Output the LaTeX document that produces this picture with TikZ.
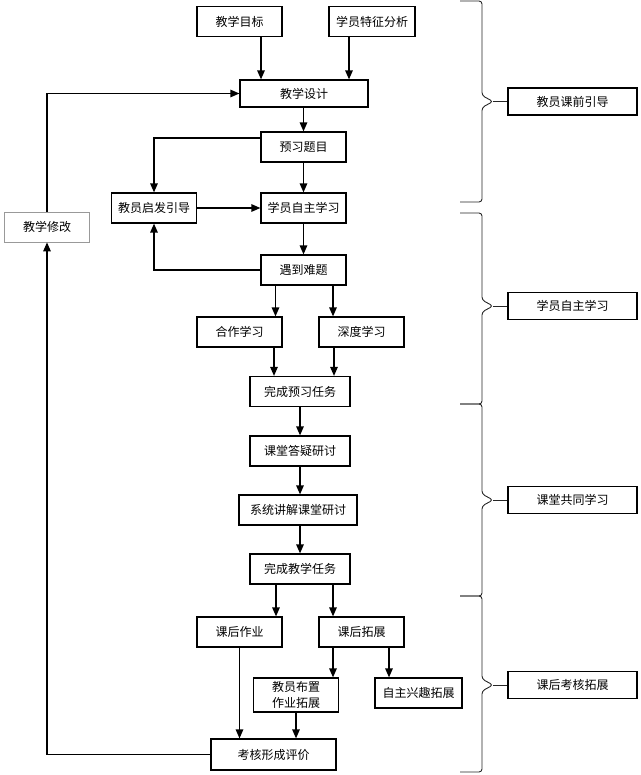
\documentclass[tikz,border=0pt]{standalone}
\usepackage{fontspec}
\newfontfamily\cjk{Noto Sans CJK SC}
\usepackage{tikz}
\usetikzlibrary{arrows.meta,positioning,calc}

\begin{document}
\begin{tikzpicture}[
    x=1pt, y=-1pt,
    box/.style={draw, line width=1.2pt, minimum width=85pt, minimum height=30pt, inner sep=2pt, align=center, font=\cjk\fontsize{12}{16}\selectfont},
    stage/.style={box, minimum width=129pt, minimum height=27pt},
    arrow/.style={-{Triangle[length=9pt,width=7.5pt]}, line width=1.3pt},
    curly/.style={draw=black!85, line width=0.9pt, rounded corners=3pt}
]
\useasboundingbox (0,0) rectangle (640,775);

% Before class
\node[box] (goal) at (239.5,21.5) {教学目标};
\node[box, minimum width=86pt] (trait) at (372,21.5) {学员特征分析};
\node[box, minimum width=128pt, minimum height=27pt] (design) at (304,93.5) {教学设计};
\node[box] (preq) at (303.5,147) {预习题目};
\node[box] (inspire) at (154,208) {教员启发引导};
\node[box] (selfstudy) at (303.5,208) {学员自主学习};
\node[box, draw=black!40, line width=0.8pt] (revise) at (47,227) {教学修改};

% Self study
\node[box] (hard) at (303.5,270) {遇到难题};
\node[box] (coop) at (239.5,332) {合作学习};
\node[box] (deep) at (361.5,332) {深度学习};
\node[box, minimum width=100pt] (prepdone) at (300,391.5) {完成预习任务};

% In class
\node[box, minimum width=100pt] (classqa) at (300,451) {课堂答疑研讨};
\node[box, minimum width=118pt] (lecture) at (298,510) {系统讲解课堂研讨};
\node[box, minimum width=100pt] (teachdone) at (300,569) {完成教学任务};

% After class
\node[box] (homework) at (239.5,632) {课后作业};
\node[box] (extend) at (361.5,632) {课后拓展};
\node[box, minimum height=34pt] (assign) at (296,695) {教员布置\\作业拓展};
\node[box, minimum width=87pt] (interest) at (418.5,693) {自主兴趣拓展};
\node[box, minimum width=125pt, minimum height=31pt] (evaluate) at (273.5,754.5) {考核形成评价};

% Stages
\node[stage] (stage1) at (572.5,101.5) {教员课前引导};
\node[stage] (stage2) at (572.5,306) {学员自主学习};
\node[stage] (stage3) at (572.5,500) {课堂共同学习};
\node[stage] (stage4) at (572.5,685) {课后考核拓展};

% Arrows
\draw[arrow] ([xshift=21.5pt]goal.south) -- ([xshift=21.5pt]goal.south |- design.north);
\draw[arrow] ([xshift=-23pt]trait.south) -- ([xshift=-23pt]trait.south |- design.north);
\draw[arrow] (revise.north) |- (design.west);
\draw[arrow] (preq.north |- design.south) -- (preq.north);
\draw[arrow] ([yshift=9pt]preq.west) -| (inspire.north);
\draw[arrow] (preq) -- (selfstudy);
\draw[arrow] (inspire) -- (selfstudy);
\draw[arrow] (selfstudy) -- (hard);
\draw[arrow] (hard.west) -| (inspire.south);
\draw[arrow] ([xshift=-28pt]hard.south) -- ([xshift=-28pt]hard.south |- coop.north);
\draw[arrow] ([xshift=29.5pt]hard.south) -- ([xshift=29.5pt]hard.south |- deep.north);
\draw[arrow] ([xshift=34.5pt]coop.south) -- ([xshift=34.5pt]coop.south |- prepdone.north);
\draw[arrow] ([xshift=-27.5pt]deep.south) -- ([xshift=-27.5pt]deep.south |- prepdone.north);
\draw[arrow] (prepdone) -- (classqa);
\draw[arrow] (classqa) -- (classqa.south |- lecture.north);
\draw[arrow] (lecture.south -| teachdone.north) -- (teachdone);
\draw[arrow] ([xshift=-24pt]teachdone.south) -- ([xshift=-24pt]teachdone.south |- homework.north);
\draw[arrow] ([xshift=33pt]teachdone.south) -- ([xshift=33pt]teachdone.south |- extend.north);
\draw[arrow] (homework) -- (homework.south |- evaluate.north);
\draw[arrow] ([xshift=-28.5pt]extend.south) -- ([xshift=-28.5pt]extend.south |- assign.north);
\draw[arrow] ([xshift=27.5pt]extend.south) -- ([xshift=27.5pt]extend.south |- interest.north);
\draw[arrow] (assign) -- (assign.south |- evaluate.north);
\draw[arrow] (evaluate.west) -| (revise.south);

% Braces
\coordinate (tip1) at (493,101.5);
\coordinate (tip2) at (493,306);
\coordinate (tip3) at (493,500);
\coordinate (tip4) at (493,685);
\draw[curly] (460,1) -- (482,1) -- (482,95.5) -- (tip1) -- (482,107.5) -- (482,202) -- (460,202);
\draw[curly] (460,213) -- (482,213) -- (482,300) -- (tip2) -- (482,312) -- (482,404) -- (460,404);
\draw[curly] (460,404) -- (482,404) -- (482,494) -- (tip3) -- (482,506) -- (482,596) -- (460,596);
\draw[curly] (460,596) -- (482,596) -- (482,679) -- (tip4) -- (482,691) -- (482,772) -- (460,772);
\draw[curly] (tip1) -- (stage1.west);
\draw[curly] (tip2) -- (stage2.west);
\draw[curly] (tip3) -- (stage3.west);
\draw[curly] (tip4) -- (stage4.west);

\end{tikzpicture}
\end{document}
